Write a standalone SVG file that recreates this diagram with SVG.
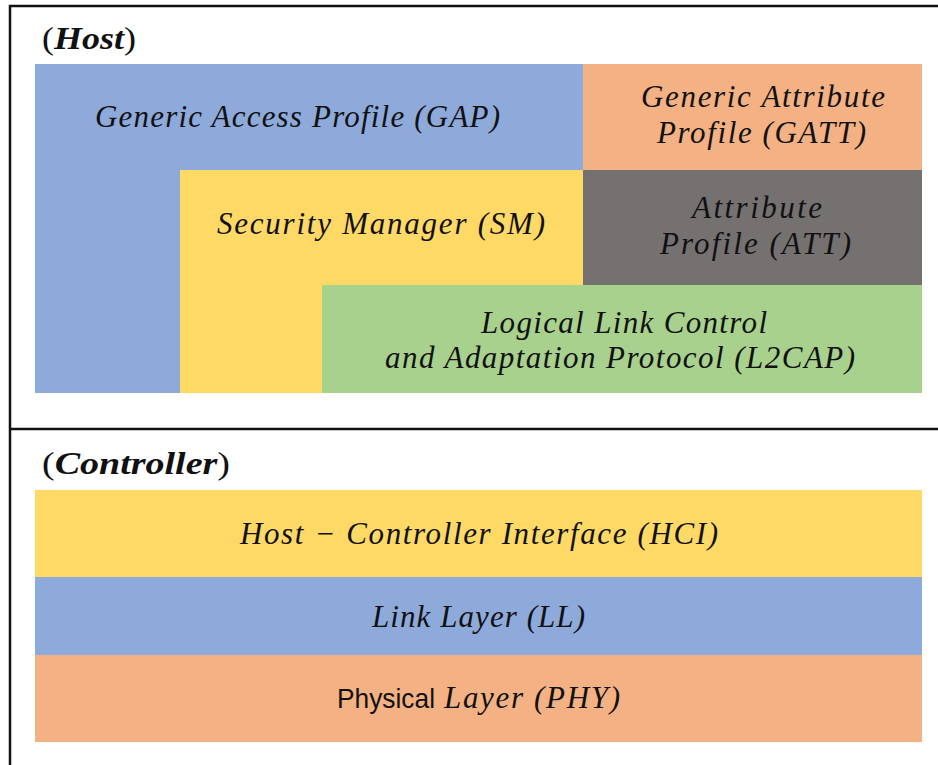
<svg xmlns="http://www.w3.org/2000/svg" width="938" height="765" viewBox="0 0 938 765">
<style>
.t{font-family:"Liberation Serif","DejaVu Serif",serif;font-style:italic;font-size:31px;fill:#111}
.lbl{font-family:"Liberation Serif","DejaVu Serif",serif;font-size:31px;fill:#111}
.frame{stroke:#111;stroke-width:2.5;fill:none}
.blue{fill:#8EAADB}.orange{fill:#F4B183}.grey{fill:#767171}.green{fill:#A9D18E}.yellow{fill:#FFD966}
</style>
<rect width="938" height="765" fill="#fff"/>
<g id="frame">
<path class="frame" d="M10,765 V6 H938"/>
<path class="frame" d="M10,429 H938"/>
</g>
<g id="host-label"><text class="lbl" x="42" y="49" textLength="94" lengthAdjust="spacingAndGlyphs">(<tspan font-weight="bold" font-style="italic">Host</tspan>)</text></g>
<g id="gap"><path class="blue" d="M35,64 H583 V170 H180 V393 H35 Z"/><text class="t" x="95" y="127" textLength="405" lengthAdjust="spacing">Generic Access Profile (GAP)</text></g>
<g id="gatt"><rect class="orange" x="583" y="64" width="339" height="106"/><text class="t" x="641" y="107" textLength="244" lengthAdjust="spacing">Generic Attribute</text><text class="t" x="657" y="143" textLength="209" lengthAdjust="spacing">Profile (GATT)</text></g>
<g id="sm"><path class="yellow" d="M180,170 H583 V285 H322 V393 H180 Z"/><text class="t" x="217" y="234" textLength="328" lengthAdjust="spacing">Security Manager (SM)</text></g>
<g id="att"><rect class="grey" x="583" y="170" width="339" height="115"/><text class="t" x="692" y="218" textLength="130" lengthAdjust="spacing">Attribute</text><text class="t" x="660" y="254" textLength="191" lengthAdjust="spacing">Profile (ATT)</text></g>
<g id="l2cap"><rect class="green" x="322" y="285" width="600" height="108"/><text class="t" x="481" y="333" textLength="286" lengthAdjust="spacing">Logical Link Control</text><text class="t" x="385" y="368" textLength="470" lengthAdjust="spacing">and Adaptation Protocol (L2CAP)</text></g>
<g id="controller-label"><text class="lbl" x="42" y="474" textLength="188" lengthAdjust="spacingAndGlyphs">(<tspan font-weight="bold" font-style="italic">Controller</tspan>)</text></g>
<g id="hci"><rect class="yellow" x="35" y="490" width="887" height="87"/><text class="t" x="240" y="544" textLength="478" lengthAdjust="spacing">Host − Controller Interface (HCI)</text></g>
<g id="ll"><rect class="blue" x="35" y="577" width="887" height="78"/><text class="t" x="372" y="627" textLength="213" lengthAdjust="spacing">Link Layer (LL)</text></g>
<g id="phy"><rect class="orange" x="35" y="655" width="887" height="87"/><text x="337" y="708" font-family="'Liberation Sans','Open Sans',sans-serif" font-size="28" fill="#111" textLength="98" lengthAdjust="spacingAndGlyphs">Physical</text><text class="t" x="444" y="708" textLength="176" lengthAdjust="spacing">Layer (PHY)</text></g>
<g id="connectors"></g>
</svg>
